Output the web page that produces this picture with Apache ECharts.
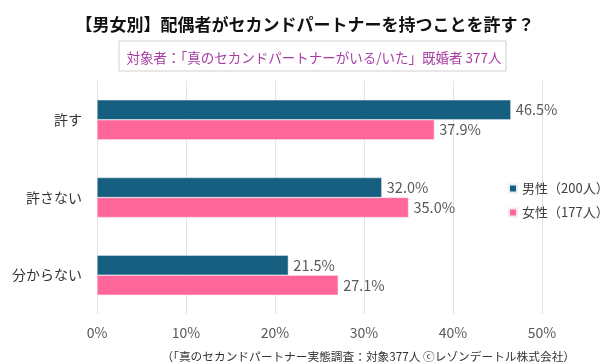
<!DOCTYPE html>
<html>
<head>
<meta charset="utf-8">
<script src="https://cdn.jsdelivr.net/npm/echarts@6/dist/echarts.min.js"></script>
<style>html,body{margin:0;padding:0;background:#fff}#c{width:600px;height:362px}</style>
</head>
<body>
<div id="c"></div>
<script>
var categories = ['許す', '許さない', '分からない'];
var maleValues = [46.5, 32.0, 21.5];
var femaleValues = [37.9, 35.0, 27.1];
var seriesNames = ['男性（200人）', '女性（177人）'];
var xTicks = [0, 10, 20, 30, 40, 50];

var FONT = '"Noto Sans CJK JP", sans-serif';
var chart = echarts.init(document.getElementById('c'));
chart.setOption({
  backgroundColor: '#fff',
  textStyle: { fontFamily: FONT },
  title: [
    { text: '【男女別】配偶者がセカンドパートナーを持つことを許す？', left: 300, top: 11, textAlign: 'center',
      textStyle: { fontSize: 17, fontWeight: 'bold', color: '#111', fontFamily: FONT } },
    { text: '対象者：「真のセカンドパートナーがいる/いた」既婚者 377人', left: 309, top: 46, textAlign: 'center',
      textStyle: { fontSize: 13.5, fontWeight: 'normal', color: '#a83ca3', fontFamily: FONT } },
    { text: '（「真のセカンドパートナー実態調査：対象377人 ⓒレゾンデートル株式会社）', right: 20, top: 346,
      textStyle: { fontSize: 11.7, fontWeight: 'normal', color: '#333', fontFamily: FONT } }
  ],
  graphic: [
    { type: 'rect', shape: { x: 119, y: 41, width: 387, height: 30 },
      style: { fill: 'none', stroke: '#cfcfcf', lineWidth: 1 }, z: -1 }
  ],
  legend: {
    orient: 'vertical', left: 503, top: 177, itemWidth: 8, itemHeight: 8, itemGap: 11,
    icon: 'rect',
    textStyle: { fontSize: 13, color: '#404040', fontFamily: FONT },
    data: seriesNames
  },
  grid: { left: 97, right: 58, top: 81, bottom: 48 },
  xAxis: {
    type: 'value', min: 0, max: 50, interval: 10,
    axisLine: { show: false }, axisTick: { show: false },
    splitLine: { lineStyle: { color: '#e3e3e3' } },
    axisLabel: { formatter: function (v) { return xTicks.indexOf(v) >= 0 ? v + '%' : ''; },
      fontSize: 14, color: '#595959', margin: 12, fontFamily: FONT }
  },
  yAxis: {
    type: 'category', data: categories, inverse: true,
    axisLine: { show: false }, axisTick: { show: false },
    axisLabel: { fontSize: 14, color: '#333', margin: 15, fontFamily: FONT }
  },
  series: [
    { name: seriesNames[0], type: 'bar', data: maleValues, barWidth: 20, barGap: '0%',
      itemStyle: { color: '#175f81', borderColor: '#e8eef2', borderWidth: 0.5 },
      label: { show: true, position: 'right', distance: 5, fontSize: 14.5, color: '#595959', fontFamily: FONT,
        formatter: function (p) { return p.value.toFixed(1) + '%'; } } },
    { name: seriesNames[1], type: 'bar', data: femaleValues, barWidth: 20, barGap: '0%',
      itemStyle: { color: '#ff6699', borderColor: '#fbe6ee', borderWidth: 0.5 },
      label: { show: true, position: 'right', distance: 5, fontSize: 14.5, color: '#595959', fontFamily: FONT,
        formatter: function (p) { return p.value.toFixed(1) + '%'; } } }
  ]
});
</script>
</body>
</html>
